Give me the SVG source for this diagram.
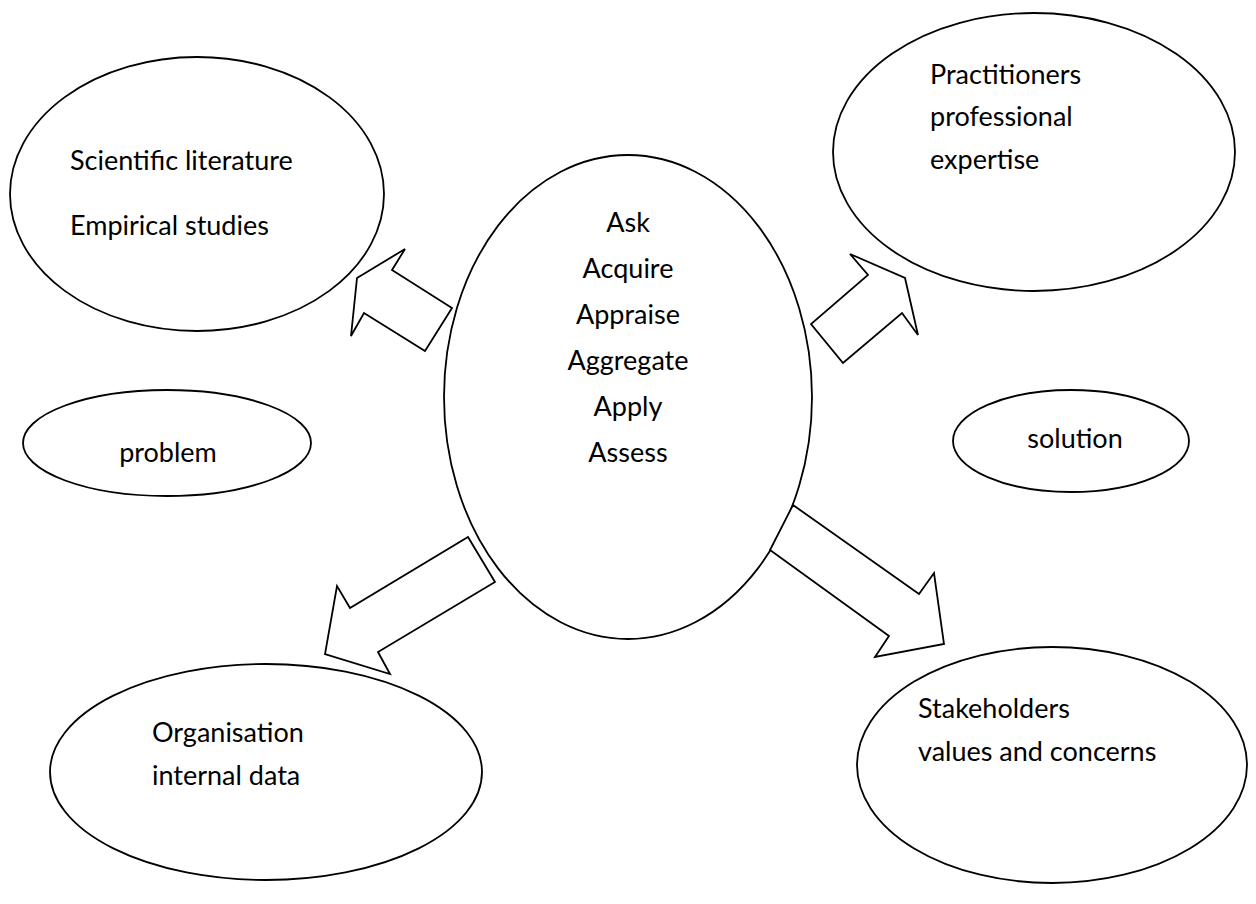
<svg xmlns="http://www.w3.org/2000/svg" width="1256" height="904" viewBox="0 0 1256 904">
  <style>
    .node ellipse { fill: #ffffff; stroke: #000000; stroke-width: 1.8; }
    .lbl { font-family: Lato, "Open Sans", "Liberation Sans", sans-serif; font-size: 27px; fill: #000000; }
    .mid { text-anchor: middle; }
    .block { fill: #ffffff; stroke: #000000; stroke-width: 1.8; stroke-linejoin: miter; }
  </style>
  <rect width="1256" height="904" fill="#ffffff"/>

  <g id="literature" class="node">
    <ellipse cx="197" cy="194" rx="187" ry="137"/>
    <text class="lbl" x="70" y="170">Scientific literature</text>
    <text class="lbl" x="70" y="235">Empirical studies</text>
  </g>

  <g id="practitioners" class="node">
    <ellipse cx="1034" cy="152" rx="201" ry="139"/>
    <!-- small break in the outline, upper right -->
    <rect x="1161.5" y="37" width="3" height="10" fill="#ffffff" transform="rotate(-60 1163 42)"/>
    <text class="lbl" x="930" y="84">Practitioners</text>
    <text class="lbl" x="930" y="126">professional</text>
    <text class="lbl" x="930" y="169">expertise</text>
  </g>

  <g id="process" class="node">
    <ellipse cx="628" cy="397" rx="184" ry="242"/>
    <text class="lbl mid" x="628" y="232">Ask</text>
    <text class="lbl mid" x="628" y="278">Acquire</text>
    <text class="lbl mid" x="628" y="324">Appraise</text>
    <text class="lbl mid" x="628" y="370">Aggregate</text>
    <text class="lbl mid" x="628" y="416">Apply</text>
    <text class="lbl mid" x="628" y="462">Assess</text>
  </g>

  <g id="problem" class="node">
    <ellipse cx="167" cy="443" rx="144" ry="53"/>
    <text class="lbl mid" x="168" y="462">problem</text>
  </g>

  <g id="solution" class="node">
    <ellipse cx="1071" cy="441" rx="118" ry="51"/>
    <text class="lbl mid" x="1075" y="448">solution</text>
  </g>

  <g id="organisation" class="node">
    <ellipse cx="266" cy="772" rx="216" ry="108"/>
    <text class="lbl" x="152" y="742">Organisation</text>
    <text class="lbl" x="152" y="785">internal data</text>
  </g>

  <g id="stakeholders" class="node">
    <ellipse cx="1052" cy="765" rx="195" ry="118"/>
    <text class="lbl" x="918" y="718">Stakeholders</text>
    <text class="lbl" x="918" y="761">values and concerns</text>
  </g>

  <!-- block arrows from the central process to each source -->
  <g id="connectors">
    <polygon class="block" points="405,249 392,270 452,308 425,351 364,313 351,336 357,278"/>
    <polygon class="block" points="850,254 905,278 918,335 902,313 843,363 811,324 868,275"/>
    <polygon class="block" points="468,537 495,582 378,652 390,674 325,654 337,586 350,608"/>
    <polygon class="block" points="793,505 919,594 934,573 944,644 875,657 889,636 770,550"/>
  </g>
</svg>
